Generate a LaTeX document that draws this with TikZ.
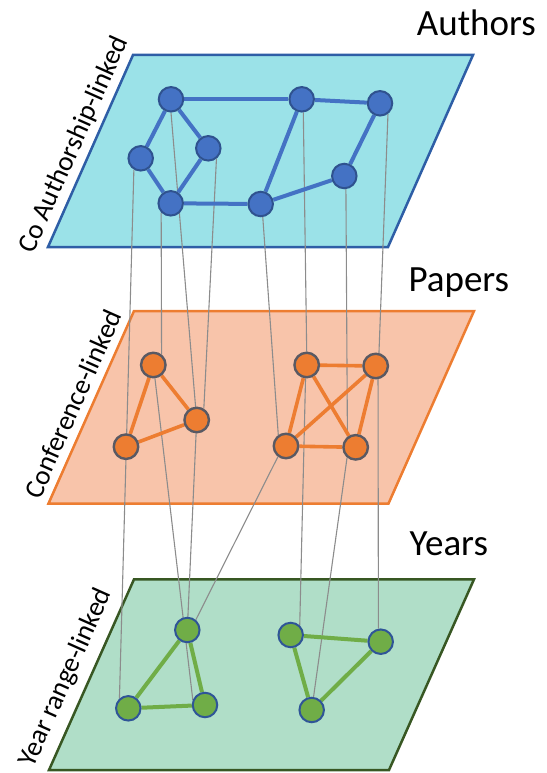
\documentclass[tikz,border=0pt]{standalone}
\usepackage{fontspec}
\setmainfont{Carlito}
\definecolor{authblue}{RGB}{68,114,196}
\definecolor{authrim}{RGB}{47,82,143}
\definecolor{paperorange}{RGB}{237,125,49}
\definecolor{paperrim}{RGB}{89,89,99}
\definecolor{yeargreen}{RGB}{112,173,71}
\definecolor{yearrim}{RGB}{47,85,151}
\definecolor{topfill}{RGB}{155,226,232}
\definecolor{topline}{RGB}{46,94,166}
\definecolor{midfill}{RGB}{248,196,170}
\definecolor{midline}{RGB}{237,125,49}
\definecolor{lowfill}{RGB}{176,222,200}
\definecolor{lowline}{RGB}{56,87,35}
\definecolor{linkgray}{RGB}{140,140,140}
\pgfdeclarelayer{planes}
\pgfdeclarelayer{links}
\pgfdeclarelayer{edges}
\pgfsetlayers{planes,links,edges,main}
\begin{document}
\begin{tikzpicture}[x=1pt,y=-1pt,
  plane/.style={line width=2.5pt, line join=miter},
  link/.style={draw=linkgray, line width=1.1pt},
  bedge/.style={draw=authblue, line width=4pt},
  oedge/.style={draw=paperorange, line width=3.6pt},
  gedge/.style={draw=yeargreen, line width=4pt},
  vertex/.style={circle, minimum size=24.5pt, inner sep=0pt, line width=2pt},
  anode/.style={vertex, fill=authblue, draw=authrim},
  pnode/.style={vertex, fill=paperorange, draw=paperrim, line width=2.4pt},
  ynode/.style={vertex, fill=yeargreen, draw=yearrim},
  layername/.style={font=\fontsize{37}{40}\selectfont, anchor=base west, inner sep=0pt},
  sidename/.style={font=\fontsize{27.5}{30}\selectfont, rotate=66, inner sep=0pt}]

\useasboundingbox (0,0) rectangle (546,773);

% the three planes
\begin{pgfonlayer}{planes}
  \draw[plane, fill=topfill, draw=topline] (133,55) -- (473,55) -- (388,247) -- (48,247) -- cycle;
  \draw[plane, fill=midfill, draw=midline] (134,311) -- (474,311) -- (388.5,503.5) -- (48.5,503.5) -- cycle;
  \draw[plane, fill=lowfill, draw=lowline] (134,579.3) -- (474,579.3) -- (389,770) -- (49,770) -- cycle;
\end{pgfonlayer}

% plane titles
\node[layername] (tAuthors) at (416.7,35.7) {Authors};
\node[layername] (tPapers) at (408.3,291.7) {Papers};
\node[layername] (tYears) at (409.5,555.5) {Years};

\node[sidename] (sAuthors) at (74,145) {Co Authorship-linked};
\node[sidename] (sPapers) at (72.7,404) {Conference-linked};
\node[sidename] (sYears) at (66,678) {Year range-linked};

% author nodes
\node[anode] (A1) at (171,99.3) {};
\node[anode] (A2) at (301.7,99.3) {};
\node[anode] (A3) at (380,103.3) {};
\node[anode] (A4) at (140.7,158.3) {};
\node[anode] (A5) at (208.3,148.3) {};
\node[anode] (A6) at (170.7,203.3) {};
\node[anode] (A7) at (260.7,204) {};
\node[anode] (A8) at (344.3,176) {};

% paper nodes
\node[pnode] (P1) at (153.3,365) {};
\node[pnode] (P2) at (196.7,420) {};
\node[pnode] (P3) at (126,446.7) {};
\node[pnode] (P4) at (306.7,365) {};
\node[pnode] (P5) at (375.7,366) {};
\node[pnode] (P6) at (286,446) {};
\node[pnode] (P7) at (355.7,447.3) {};

% year nodes
\node[ynode] (Y1) at (187.3,630) {};
\node[ynode] (Y2) at (128.3,708.3) {};
\node[ynode] (Y3) at (205,705) {};
\node[ynode] (Y4) at (290.7,635) {};
\node[ynode] (Y5) at (380.7,641.7) {};
\node[ynode] (Y6) at (311.7,710) {};

% links within each plane
\begin{pgfonlayer}{edges}
  \draw[bedge] (A1) -- (A2);
  \draw[bedge] (A2) -- (A3);
  \draw[bedge] (A1) -- (A4);
  \draw[bedge] (A1) -- (A5);
  \draw[bedge] (A4) -- (A6);
  \draw[bedge] (A5) -- (A6);
  \draw[bedge] (A6) -- (A7);
  \draw[bedge] (A7) -- (A2);
  \draw[bedge] (A7) -- (A8);
  \draw[bedge] (A8) -- (A3);

  \draw[oedge] (P1) -- (P2);
  \draw[oedge] (P1) -- (P3);
  \draw[oedge] (P3) -- (P2);
  \draw[oedge] (P4) -- (P5);
  \draw[oedge] (P4) -- (P6);
  \draw[oedge] (P4) -- (P7);
  \draw[oedge] (P5) -- (P6);
  \draw[oedge] (P5) -- (P7);
  \draw[oedge] (P6) -- (P7);

  \draw[gedge] (Y1) -- (Y2);
  \draw[gedge] (Y1) -- (Y3);
  \draw[gedge] (Y2) -- (Y3);
  \draw[gedge] (Y4) -- (Y5);
  \draw[gedge] (Y4) -- (Y6);
  \draw[gedge] (Y5) -- (Y6);
\end{pgfonlayer}

% links between the planes
\begin{pgfonlayer}{links}
  \draw[link] (A4.239) -- (Y2.132);
  \draw[link] (A6.224) -- (P1.52);
  \draw[link] (A1.south) -- (P2.center);
  \draw[link] (A5.308) -- (P2.58);
  \draw[link] (P2.center) -- (Y1.center);
  \draw[link] (P1.277) -- (Y3.157);
  \draw[link] (A7.279) -- (P6.125);
  \draw[link] (P6.233) -- (Y1.50);
  \draw[link] (A2.277) -- (P4.90);
  \draw[link] (P4.265) -- (Y4.47);
  \draw[link] (A8.277) -- (P7.128);
  \draw[link] (P7.230) -- (Y6.82);
  \draw[link] (A3.307) -- (P5.76);
  \draw[link] (P5.280) -- (Y5.100);
\end{pgfonlayer}
\end{tikzpicture}
\end{document}
